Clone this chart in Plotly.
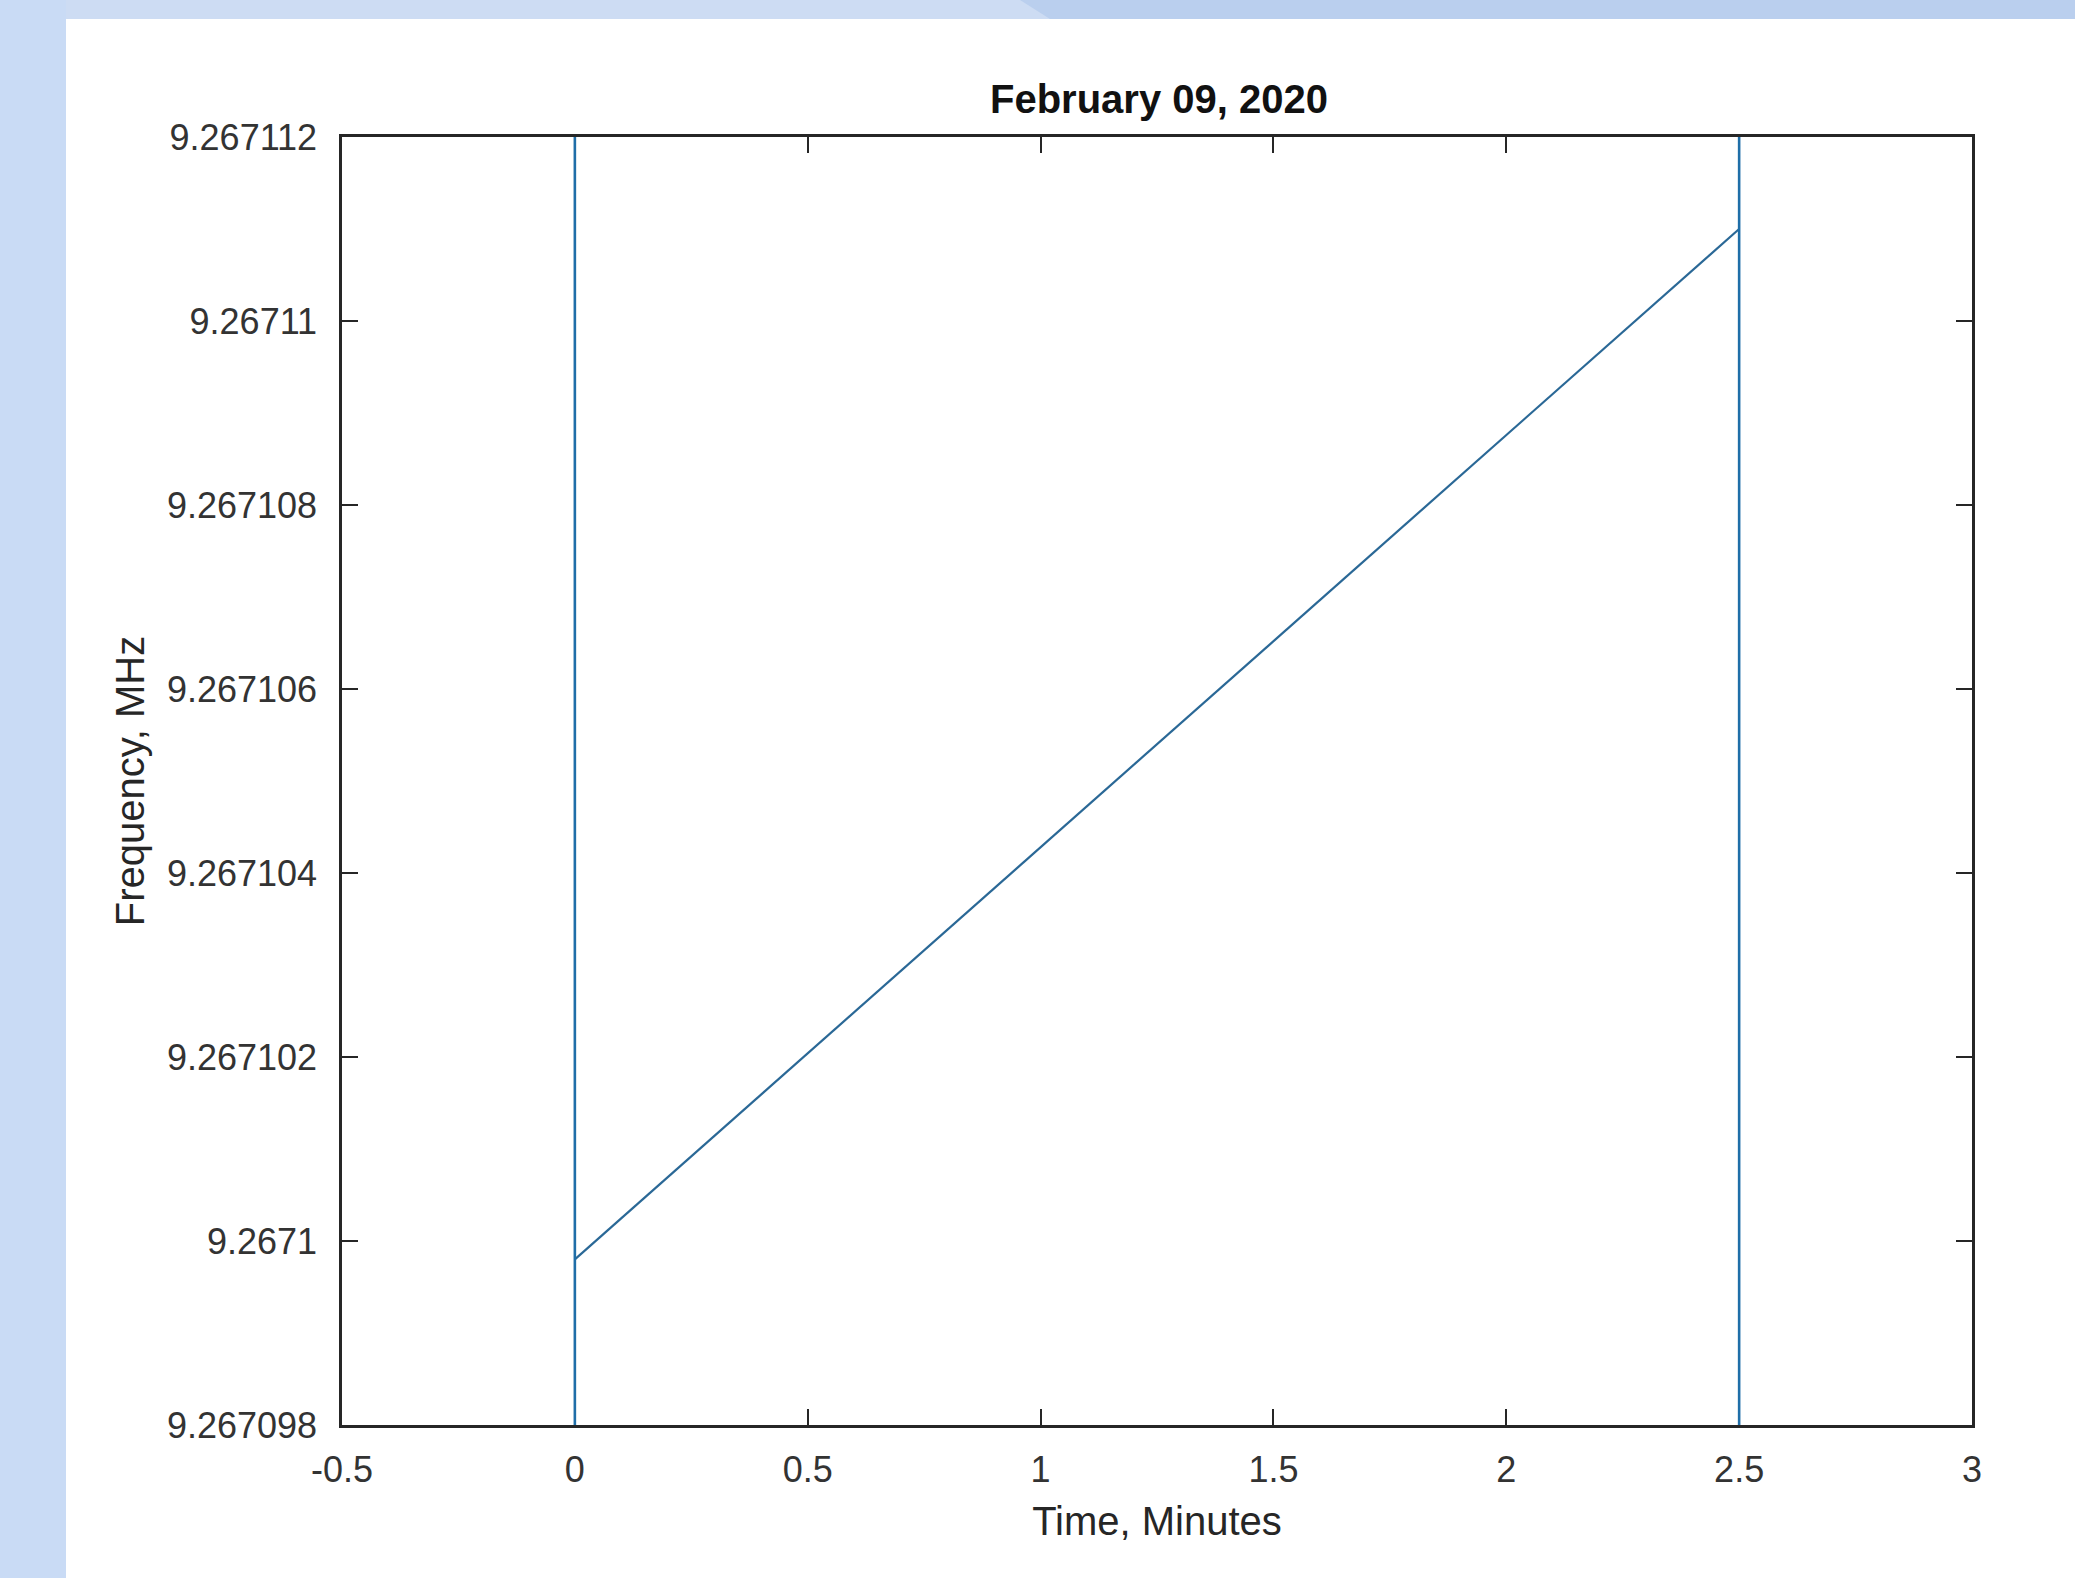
import plotly.graph_objects as go

# ---- data ----
time_min = [0.0, 2.5]
freq_mhz = [9.2670998, 9.2671110]
marker_times = [0.0, 2.5]

x_ticks = [-0.5, 0, 0.5, 1, 1.5, 2, 2.5, 3]
x_ticktext = ["-0.5", "0", "0.5", "1", "1.5", "2", "2.5", "3"]
y_ticks = [9.267098, 9.2671, 9.267102, 9.267104, 9.267106, 9.267108, 9.26711, 9.267112]
y_ticktext = ["9.267098", "9.2671", "9.267102", "9.267104", "9.267106", "9.267108", "9.26711", "9.267112"]

title_text = "February 09, 2020"
x_label = "Time, Minutes"
y_label = "Frequency, MHz"

# ---- layout geometry ----
W, H = 2075, 1578
ML, MR, MT, MB = 342, 103, 137, 153
PW, PH = W - ML - MR, H - MT - MB

def px(xp):
    return (xp - ML) / PW

def py(yp):
    return (H - MB - yp) / PH

LINE_BLUE = "#1f6ea8"
DIAG_BLUE = "#2a6896"
AX = "#262626"
FONT = "Liberation Sans, Arial, Helvetica, sans-serif"

fig = go.Figure()
fig.add_trace(go.Scatter(x=time_min, y=freq_mhz, mode="lines",
                         line=dict(color=DIAG_BLUE, width=2.2), showlegend=False))
for t in marker_times:
    fig.add_vline(x=t, line=dict(color=LINE_BLUE, width=2.6), layer="above")

# background bands (slide decoration)
shapes = [
    dict(type="rect", xref="paper", yref="paper", layer="below",
         x0=px(0), x1=px(W), y0=py(19), y1=py(0),
         fillcolor="#cddcf3", line=dict(width=0)),
    dict(type="path", xref="paper", yref="paper", layer="below",
         path=f"M {px(1020)} {py(0)} L {px(W)} {py(0)} L {px(W)} {py(19)} L {px(1050)} {py(19)} Z",
         fillcolor="#bacfee", line=dict(width=0)),
    dict(type="rect", xref="paper", yref="paper", layer="below",
         x0=px(0), x1=px(66), y0=py(H), y1=py(0),
         fillcolor="#c9dbf5", line=dict(width=0)),
]
for s in shapes:
    fig.add_shape(**s)

axis_common = dict(
    showline=True, linecolor=AX, linewidth=2.5, mirror="allticks",
    ticks="inside", ticklen=16, tickwidth=2, tickcolor=AX,
    showgrid=False, zeroline=False,
    tickfont=dict(family=FONT, size=36, color="#333333"),
)

fig.update_layout(
    width=W, height=H, autosize=False,
    margin=dict(l=ML, r=MR, t=MT, b=MB, pad=0),
    paper_bgcolor="white", plot_bgcolor="white",
    font=dict(family=FONT, color=AX),
    title=dict(text="<b>" + title_text + "</b>", x=px(1159), xref="paper",
               xanchor="center", y=1 - 99 / H, yref="container", yanchor="middle",
               font=dict(family=FONT, size=40, color="#111111")),
    xaxis=dict(range=[-0.5, 3], tickvals=x_ticks, ticktext=x_ticktext,
               ticklabelstandoff=11,
               title=dict(text=x_label, standoff=19,
                          font=dict(family=FONT, size=40, color=AX)),
               **axis_common),
    yaxis=dict(range=[9.267098, 9.267112], tickvals=y_ticks, ticktext=y_ticktext,
               ticklabelstandoff=15,
               title=dict(text=y_label, standoff=10,
                          font=dict(family=FONT, size=40, color=AX)),
               **axis_common),
)

fig.write_html("out.html")
